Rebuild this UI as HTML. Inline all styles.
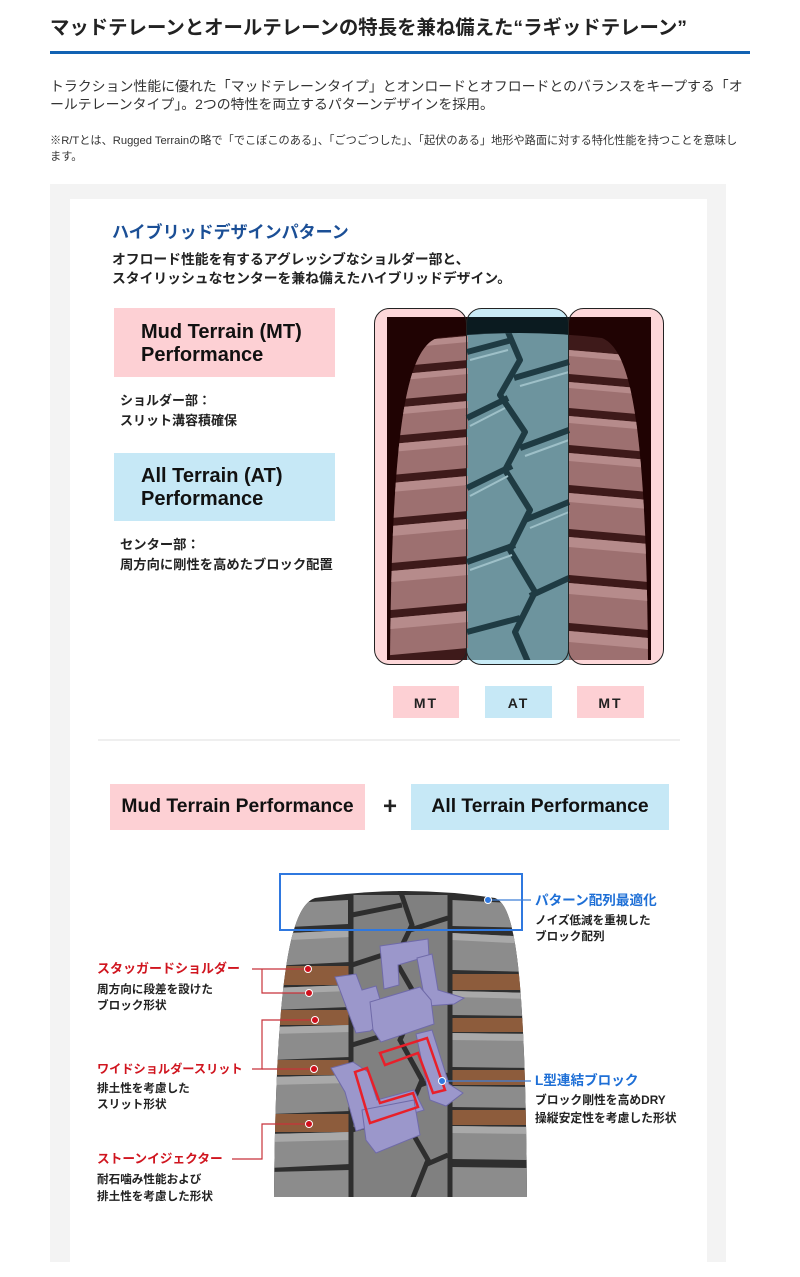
<!DOCTYPE html>
<html><head><meta charset="utf-8">
<style>
html,body{margin:0;padding:0;background:#fff;}
body{width:800px;height:1277px;position:relative;overflow:hidden;}
.t{position:absolute;white-space:nowrap;font-family:"Liberation Sans","Noto Sans CJK JP",sans-serif;color:#222;}
.b{font-weight:bold;}
svg{position:absolute;left:0;top:0;}
</style></head><body>
<svg width="800" height="1277" viewBox="0 0 800 1277">
<defs>
<clipPath id="img1"><rect x="387" y="317" width="264" height="343"/></clipPath>
<clipPath id="tire1"><path d="M437,338 Q519,328 602,338 C632,350 646,430 648,660 L390,660 C392,430 406,350 437,338 Z"/></clipPath>
<clipPath id="tire2"><path d="M315,898 Q405,884 495,898 C515,906 525,965 527,1197 L274,1197 C276,965 292,906 315,898 Z"/></clipPath>
</defs>
<!-- header line -->
<rect x="50" y="51" width="700" height="3" fill="#1262b3"/>
<!-- panel -->
<rect x="50" y="184" width="676" height="1078" fill="#f3f3f3"/>
<rect x="70" y="199" width="637" height="1063" fill="#ffffff"/>
<!-- left boxes -->
<rect x="114" y="308" width="221" height="69" fill="#fdd0d4"/>
<rect x="114" y="453" width="221" height="68" fill="#c6e8f6"/>
<!-- column fills -->
<rect x="374.5" y="308.5" width="92" height="356" rx="15" fill="#fdd7d9"/>
<rect x="466.5" y="308.5" width="102" height="356" rx="15" fill="#c9ecf7"/>
<rect x="568.5" y="308.5" width="95" height="356" rx="15" fill="#fdd7d9"/>
<!-- top tire image -->
<g clip-path="url(#img1)">
 <rect x="387" y="317" width="80" height="343" fill="#200303"/>
 <rect x="467" y="317" width="102" height="343" fill="#0b1b20"/>
 <rect x="569" y="317" width="82" height="343" fill="#200303"/>
 <g clip-path="url(#tire1)">
  <rect x="380" y="317" width="87" height="343" fill="#3e1a1a"/>
  <rect x="467" y="317" width="102" height="343" fill="#6d949e"/>
  <rect x="569" y="317" width="90" height="343" fill="#3e1a1a"/>
  <!-- left shoulder blocks -->
  <g fill="#9d7070">
   <polygon points="380,344 468,336 468,360 380,368"/>
   <polygon points="380,376 468,368 468,393 380,401"/>
   <polygon points="380,409 468,401 468,429 380,437"/>
   <polygon points="380,445 468,437 468,468 380,476"/>
   <polygon points="380,484 468,476 468,511 380,519"/>
   <polygon points="380,527 468,519 468,556 380,564"/>
   <polygon points="380,572 468,564 468,603 380,611"/>
   <polygon points="380,619 468,611 468,648 380,656"/>
  </g>
  <g fill="#b68b8b">
   <polygon points="380,344 468,336 468,342 380,350"/>
   <polygon points="380,376 468,368 468,374 380,382"/>
   <polygon points="380,409 468,401 468,408 380,416"/>
   <polygon points="380,445 468,437 468,445 380,453"/>
   <polygon points="380,484 468,476 468,485 380,493"/>
   <polygon points="380,527 468,519 468,529 380,537"/>
   <polygon points="380,572 468,564 468,575 380,583"/>
   <polygon points="380,619 468,611 468,622 380,630"/>
  </g>
  <!-- right shoulder blocks -->
  <g fill="#9d7070">
   <polygon points="569,350 660,358 660,382 569,374"/>
   <polygon points="569,382 660,390 660,416 569,408"/>
   <polygon points="569,416 660,424 660,453 569,445"/>
   <polygon points="569,453 660,461 660,493 569,485"/>
   <polygon points="569,493 660,501 660,537 569,529"/>
   <polygon points="569,537 660,545 660,583 569,575"/>
   <polygon points="569,583 660,591 660,631 569,623"/>
   <polygon points="569,631 660,639 660,670 569,662"/>
  </g>
  <g fill="#b68b8b">
   <polygon points="569,350 660,358 660,364 569,356"/>
   <polygon points="569,382 660,390 660,396 569,388"/>
   <polygon points="569,416 660,424 660,431 569,423"/>
   <polygon points="569,453 660,461 660,469 569,461"/>
   <polygon points="569,493 660,501 660,510 569,502"/>
   <polygon points="569,537 660,545 660,555 569,547"/>
   <polygon points="569,583 660,591 660,602 569,594"/>
   <polygon points="569,631 660,639 660,650 569,642"/>
  </g>
  <!-- center grooves -->
  <g stroke="#1f3b43" stroke-width="6" fill="none" stroke-linejoin="round">
   <polyline points="505,325 520,360 500,395 525,432 505,470 530,510 510,550 535,592 515,632 528,662"/>
   <line x1="467" y1="352" x2="512" y2="340"/>
   <line x1="467" y1="418" x2="508" y2="398"/>
   <line x1="467" y1="488" x2="512" y2="466"/>
   <line x1="467" y1="562" x2="515" y2="545"/>
   <line x1="467" y1="632" x2="520" y2="618"/>
   <line x1="514" y1="378" x2="569" y2="362"/>
   <line x1="520" y1="448" x2="569" y2="430"/>
   <line x1="525" y1="520" x2="569" y2="502"/>
   <line x1="530" y1="596" x2="569" y2="578"/>
  </g>
  <g stroke="#9ec0c8" stroke-width="2" fill="none">
   <line x1="470" y1="360" x2="508" y2="350"/>
   <line x1="470" y1="426" x2="505" y2="408"/>
   <line x1="470" y1="496" x2="508" y2="476"/>
   <line x1="470" y1="570" x2="512" y2="555"/>
   <line x1="520" y1="386" x2="569" y2="372"/>
   <line x1="525" y1="456" x2="569" y2="440"/>
   <line x1="530" y1="528" x2="569" y2="512"/>
  </g>
 </g>
</g>
<!-- column outlines -->
<g fill="none" stroke="#222" stroke-width="1">
 <rect x="374.5" y="308.5" width="92" height="356" rx="15"/>
 <rect x="466.5" y="308.5" width="102" height="356" rx="15"/>
 <rect x="568.5" y="308.5" width="95" height="356" rx="15"/>
</g>
<!-- MT/AT labels -->
<rect x="393" y="686" width="66" height="32" fill="#fdd0d4"/>
<rect x="485" y="686" width="67" height="32" fill="#c6e8f6"/>
<rect x="577" y="686" width="67" height="32" fill="#fdd0d4"/>
<!-- divider -->
<rect x="98" y="739" width="582" height="2" fill="#efefef"/>
<!-- performance boxes -->
<rect x="110" y="784" width="255" height="46" fill="#fdd0d4"/>
<rect x="411" y="784" width="258" height="46" fill="#c6e8f6"/>

<!-- bottom tire -->
<g clip-path="url(#tire2)">
 <rect x="270" y="880" width="262" height="320" fill="#2f2f2f"/>
 <g fill="#8d5c3c">
  <rect x="270" y="966" width="80" height="19"/>
  <rect x="270" y="1010" width="80" height="15"/>
  <rect x="270" y="1060" width="80" height="15"/>
  <rect x="270" y="1114" width="80" height="18"/>
  <rect x="452" y="974" width="80" height="16"/>
  <rect x="452" y="1018" width="80" height="14"/>
  <rect x="452" y="1070" width="80" height="15"/>
  <rect x="452" y="1110" width="80" height="15"/>
 </g>
 <g fill="#8c8c8c">
  <polygon points="270,904 348,900 348,924 270,928"/>
  <polygon points="270,934 350,930 350,962 270,966"/>
  <polygon points="270,988 350,985 350,1007 270,1010"/>
  <polygon points="270,1027 350,1025 350,1057 270,1060"/>
  <polygon points="270,1077 350,1075 350,1111 270,1114"/>
  <polygon points="270,1134 350,1132 350,1164 270,1168"/>
  <polygon points="270,1172 350,1170 350,1200 270,1200"/>
 </g>
 <g fill="#a9a9a9">
  <polygon points="270,934 350,930 350,937 270,941"/>
  <polygon points="270,988 350,985 350,991 270,994"/>
  <polygon points="270,1027 350,1025 350,1032 270,1034"/>
  <polygon points="270,1077 350,1075 350,1083 270,1085"/>
  <polygon points="270,1134 350,1132 350,1140 270,1142"/>
 </g>
 <g fill="#8c8c8c">
  <polygon points="452,900 532,904 532,928 452,926"/>
  <polygon points="452,933 532,937 532,972 452,970"/>
  <polygon points="452,991 532,993 532,1016 452,1015"/>
  <polygon points="452,1033 532,1034 532,1068 452,1067"/>
  <polygon points="452,1086 532,1087 532,1108 452,1107"/>
  <polygon points="452,1126 532,1127 532,1160 452,1159"/>
  <polygon points="452,1167 532,1168 532,1200 452,1200"/>
 </g>
 <g fill="#a9a9a9">
  <polygon points="452,933 532,937 532,944 452,940"/>
  <polygon points="452,991 532,993 532,999 452,997"/>
  <polygon points="452,1033 532,1034 532,1041 452,1040"/>
  <polygon points="452,1126 532,1127 532,1134 452,1133"/>
 </g>
 <rect x="352" y="895" width="96" height="305" fill="#808080"/>
 <g stroke="#2e2e2e" stroke-width="5" fill="none">
  <polyline points="400,890 412,925 395,960 418,1000 400,1040 422,1080 405,1120 428,1160 412,1200"/>
  <line x1="352" y1="915" x2="402" y2="905"/>
  <line x1="352" y1="965" x2="398" y2="950"/>
  <line x1="352" y1="1045" x2="402" y2="1030"/>
  <line x1="352" y1="1130" x2="408" y2="1115"/>
  <line x1="410" y1="930" x2="448" y2="918"/>
  <line x1="415" y1="1005" x2="448" y2="995"/>
  <line x1="420" y1="1085" x2="448" y2="1075"/>
  <line x1="425" y1="1165" x2="448" y2="1155"/>
  <line x1="351" y1="895" x2="351" y2="1200"/>
  <line x1="450" y1="895" x2="450" y2="1200"/>
 </g>
 <g fill="#9b97cb" stroke="#6f6aa8" stroke-width="1">
  <polygon points="380,946 428,939 429,956 398,965 399,985 384,989"/>
  <polygon points="417,958 432,954 438,990 464,998 454,1004 426,1006"/>
  <polygon points="335,977 356,974 362,990 376,986 386,1020 370,1031 356,1033"/>
  <polygon points="370,1002 420,987 431,1000 434,1024 381,1042 373,1030"/>
  <polygon points="416,1034 432,1030 449,1084 463,1093 446,1106 430,1100"/>
  <polygon points="331,1068 353,1062 368,1072 377,1100 414,1090 424,1110 372,1126 356,1131 345,1092"/>
  <polygon points="362,1110 414,1100 420,1135 376,1153 366,1140"/>
 </g>
</g>
<g fill="none" stroke="#e8202a" stroke-width="2.5" stroke-linejoin="miter">
 <polygon points="380,1053 427,1038 445,1090 433,1093 418,1053 385,1065"/>
 <polygon points="355,1072 367,1068 380,1103 413,1093 418,1107 370,1123"/>
</g>
<rect x="280" y="874" width="242" height="56" fill="none" stroke="#2f78df" stroke-width="2"/>
<g stroke="#3f7fd8" stroke-width="1.2">
 <line x1="488" y1="900" x2="531" y2="900"/>
 <line x1="442" y1="1081" x2="531" y2="1081"/>
</g>
<circle cx="488" cy="900" r="3.5" fill="#2f78df" stroke="#fff" stroke-width="1"/>
<circle cx="442" cy="1081" r="3.5" fill="#2f78df" stroke="#fff" stroke-width="1"/>
<g stroke="#c8323a" stroke-width="1.2" fill="none">
 <polyline points="252,969 308,969"/>
 <polyline points="262,969 262,993 309,993"/>
 <polyline points="315,1020 262,1020 262,1069 252,1069"/>
 <polyline points="262,1069 314,1069"/>
 <polyline points="309,1124 262,1124 262,1159 232,1159"/>
</g>
<g fill="#d0101c" stroke="#fff" stroke-width="1">
 <circle cx="308" cy="969" r="3.5"/>
 <circle cx="309" cy="993" r="3.5"/>
 <circle cx="315" cy="1020" r="3.5"/>
 <circle cx="314" cy="1069" r="3.5"/>
 <circle cx="309" cy="1124" r="3.5"/>
</g>
</svg>

<div class="t b" style="left:50px;top:15px;font-size:19.4px;line-height:26px;color:#222;">マッドテレーンとオールテレーンの特長を兼ね備えた“ラギッドテレーン”</div>
<div class="t" style="left:50px;top:77px;font-size:13.9px;line-height:18px;color:#333;">トラクション性能に優れた「マッドテレーンタイプ」とオンロードとオフロードとのバランスをキープする「オ<br>ールテレーンタイプ」。2つの特性を両立するパターンデザインを採用。</div>
<div class="t" style="left:50px;top:133px;font-size:11.2px;line-height:16px;color:#333;">※R/Tとは、Rugged Terrainの略で「でこぼこのある」、「ごつごつした」、「起伏のある」地形や路面に対する特化性能を持つことを意味し<br>ます。</div>

<div class="t b" style="left:112px;top:222px;font-size:17px;line-height:22px;color:#1b4f96;">ハイブリッドデザインパターン</div>
<div class="t b" style="left:112px;top:250px;font-size:13.8px;line-height:19px;color:#222;">オフロード性能を有するアグレッシブなショルダー部と、<br>スタイリッシュなセンターを兼ね備えたハイブリッドデザイン。</div>

<div class="t b" style="left:141px;top:321px;font-size:20px;line-height:23px;color:#111;">Mud Terrain (MT)<br>Performance</div>
<div class="t b" style="left:120px;top:391px;font-size:13px;line-height:20px;color:#222;">ショルダー部：<br>スリット溝容積確保</div>
<div class="t b" style="left:141px;top:465px;font-size:20px;line-height:23px;color:#111;">All Terrain (AT)<br>Performance</div>
<div class="t b" style="left:120px;top:535px;font-size:13.3px;line-height:20px;color:#222;">センター部：<br>周方向に剛性を高めたブロック配置</div>

<div class="t b" style="left:393px;width:66px;text-align:center;top:694px;font-size:14px;line-height:18px;letter-spacing:2px;color:#222;">MT</div>
<div class="t b" style="left:485px;width:67px;text-align:center;top:694px;font-size:14px;line-height:18px;letter-spacing:2px;color:#222;">AT</div>
<div class="t b" style="left:577px;width:67px;text-align:center;top:694px;font-size:14px;line-height:18px;letter-spacing:2px;color:#222;">MT</div>

<div class="t b" style="left:110px;width:255px;text-align:center;top:795px;font-size:19.3px;line-height:24px;color:#111;">Mud Terrain Performance</div>
<div class="t b" style="left:378px;width:24px;text-align:center;top:793px;font-size:24px;line-height:28px;color:#222;">+</div>
<div class="t b" style="left:411px;width:258px;text-align:center;top:795px;font-size:19.3px;line-height:24px;color:#111;">All Terrain Performance</div>

<div class="t b" style="left:97px;top:960px;font-size:13px;line-height:18px;color:#d0151f;">スタッガードショルダー</div>
<div class="t b" style="left:97px;top:982px;font-size:11.6px;line-height:16px;color:#222;">周方向に段差を設けた<br>ブロック形状</div>
<div class="t b" style="left:97px;top:1060px;font-size:12.2px;line-height:18px;color:#d0151f;">ワイドショルダースリット</div>
<div class="t b" style="left:97px;top:1081px;font-size:11.6px;line-height:16px;color:#222;">排土性を考慮した<br>スリット形状</div>
<div class="t b" style="left:97px;top:1150px;font-size:12.7px;line-height:18px;color:#d0151f;">ストーンイジェクター</div>
<div class="t b" style="left:97px;top:1171px;font-size:11.6px;line-height:17px;color:#222;">耐石噛み性能および<br>排土性を考慮した形状</div>

<div class="t b" style="left:535px;top:892px;font-size:13.6px;line-height:18px;color:#1e6fd6;">パターン配列最適化</div>
<div class="t b" style="left:535px;top:913px;font-size:11.6px;line-height:16px;color:#222;">ノイズ低減を重視した<br>ブロック配列</div>
<div class="t b" style="left:535px;top:1072px;font-size:13.6px;line-height:18px;color:#1e6fd6;">L型連結ブロック</div>
<div class="t b" style="left:535px;top:1091px;font-size:11.8px;line-height:18px;color:#222;">ブロック剛性を高めDRY<br>操縦安定性を考慮した形状</div>
</body></html>
